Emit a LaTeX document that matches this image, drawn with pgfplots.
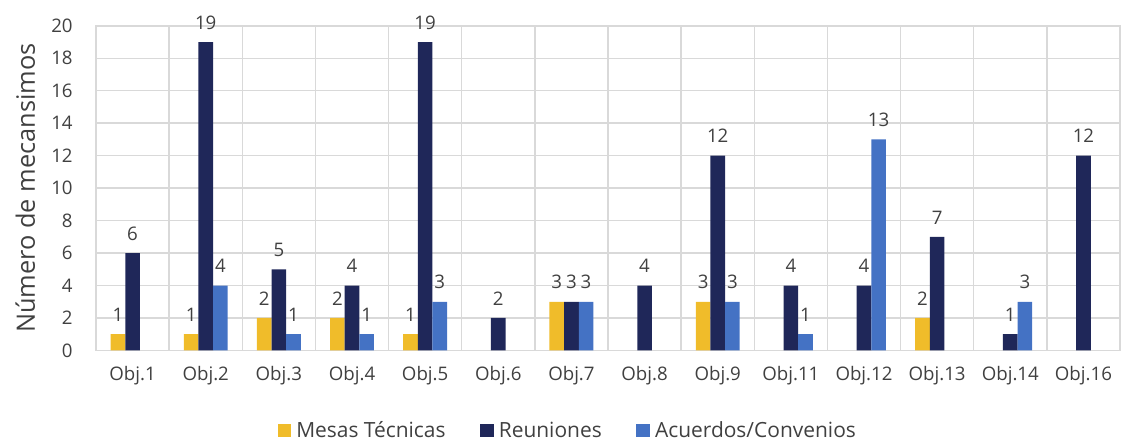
\documentclass[border=0pt]{standalone}
\usepackage{fontspec}
\setmainfont{Open Sans}
\usepackage{pgfplots}
\pgfplotsset{compat=1.18}
\definecolor{cy}{HTML}{F0BC2A}
\definecolor{cn}{HTML}{1F2759}
\definecolor{cb}{HTML}{4472C4}
\definecolor{gridc}{HTML}{D9D9D9}
\definecolor{txt}{HTML}{404040}
\begin{document}
\begin{tikzpicture}[x=1pt,y=1pt]
\useasboundingbox (0,0) rectangle (842.25,330.75);
\begin{axis}[
 at={(72pt,67.9pt)}, anchor=south west,
 scale only axis, width=768pt, height=243.5pt,
 xmin=-0.5, xmax=13.5, ymin=0, ymax=20,
 ytick={0,2,...,20},
 xtick={0,...,13},
 xticklabels={Obj.1,Obj.2,Obj.3,Obj.4,Obj.5,Obj.6,Obj.7,Obj.8,Obj.9,Obj.11,Obj.12,Obj.13,Obj.14,Obj.16},
 minor xtick={-0.5,0.5,...,13.5},
 xminorgrids, ymajorgrids,
 grid style={gridc, line width=1.1pt},
 minor grid style={gridc, line width=1.1pt},
 axis line style={gridc, line width=1.1pt},
 major tick length=0pt, minor tick length=0pt,
 tick label style={font=\fontsize{14}{16}\selectfont, text=txt},
 x tick label style={yshift=-8pt},
 y tick label style={xshift=-14pt},
 /pgf/number format/assume math mode=true,
 ylabel={Número de mecansimos},
 ylabel style={at={(axis description cs:-0.069,0.5)}, anchor=center, font=\fontsize{19}{22}\selectfont, text=txt},
 ybar=0pt, bar width=0.2,
 nodes near coords,
 nodes near coords style={font=\fontsize{14}{16}\selectfont, text=txt, yshift=6pt},
 legend style={at={(0.461,-0.247)}, anchor=center, draw=none, fill=none, legend columns=-1,
   font=\fontsize{15.7}{18}\selectfont, text=txt,
   /tikz/every odd column/.append style={column sep=2pt},
   /tikz/every even column/.append style={column sep=24pt}},
 legend image code/.code={\fill[#1] (0pt,-5pt) rectangle (10pt,5pt);},
]
\addplot[fill=cy, draw=none] coordinates {(0,1) (1,1) (2,2) (3,2) (4,1) (6,3) (8,3) (11,2)};
\addplot[fill=cn, draw=none] coordinates {(0,6) (1,19) (2,5) (3,4) (4,19) (5,2) (6,3) (7,4) (8,12) (9,4) (10,4) (11,7) (12,1) (13,12)};
\addplot[fill=cb, draw=none] coordinates {(1,4) (2,1) (3,1) (4,3) (6,3) (8,3) (9,1) (10,13) (12,3)};
\legend{Mesas Técnicas,Reuniones,Acuerdos/Convenios}
\end{axis}
\end{tikzpicture}
\end{document}
